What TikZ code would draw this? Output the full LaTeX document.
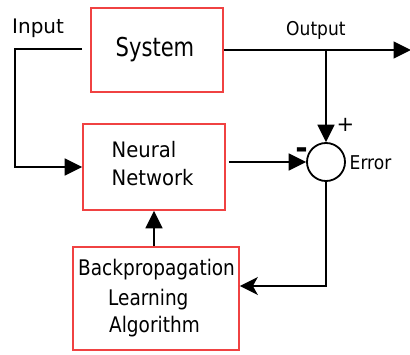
\documentclass[tikz,border=0pt]{standalone}
\usepackage{fontspec}
\usepackage{graphicx}
\setmainfont{DejaVu Sans}
\usetikzlibrary{arrows.meta,calc}
\definecolor{boxred}{RGB}{240,66,66}
\newcommand{\sqz}[2]{\scalebox{#1}[1]{#2}}
\tikzset{
  x=1pt,y=1pt,
  blk/.style={draw=boxred,line width=1.7pt,rectangle,inner sep=0pt},
  wire/.style={line width=1.8pt,draw=black},
  tri/.style={-{Triangle[length=17.5pt,width=17pt]}},
  stl/.style={-{Stealth[length=18pt,width=18pt,inset=5pt]}},
  lbl/.style={inner sep=0pt,anchor=base west}
}
\begin{document}
\begin{tikzpicture}
\useasboundingbox (0,0) rectangle (410,354);
% blocks
\node[blk,minimum width=132pt,minimum height=84pt] (sys) at (157,304) {};
\node[lbl,font=\fontsize{26}{30}\selectfont] (systxt) at (115.5,297) {\sqz{0.81}{System}};
\node[blk,minimum width=142pt,minimum height=86pt] (nn) at (154,187) {};
\node[lbl,font=\fontsize{21.3}{28}\selectfont] (nn1) at (111.5,196.3) {\sqz{0.92}{Neural}};
\node[lbl,font=\fontsize{21.3}{28}\selectfont] (nn2) at (111.5,168.3) {\sqz{0.92}{Network}};
\node[blk,minimum width=166pt,minimum height=103pt] (bp) at (156,55.5) {};
\node[lbl,font=\fontsize{21.5}{29}\selectfont] (bp1) at (78,78.3) {\sqz{0.86}{Backpropagation}};
\node[lbl,font=\fontsize{21.5}{29}\selectfont] (bp2) at (108,49) {\sqz{0.86}{Learning}};
\node[lbl,font=\fontsize{21.5}{29}\selectfont] (bp3) at (109,21.3) {\sqz{0.86}{Algorithm}};
% summing junction
\node[draw,circle,line width=1.8pt,minimum size=38pt,inner sep=0pt] (err) at (326,192) {};
% labels
\node[lbl,font=\fontsize{20}{22}\selectfont] (inlbl) at (12,320) {Input};
\node[lbl,font=\fontsize{19}{22}\selectfont] (outlbl) at (286,318) {\sqz{0.9}{Output}};
\node[lbl,font=\fontsize{19}{22}\selectfont] (errlbl) at (349.5,184.7) {\sqz{0.9}{Error}};
\node[inner sep=0pt,font=\fontsize{21}{22}\selectfont] (plus) at (345.5,229) {+};
\node[inner sep=0pt,anchor=base,font=\bfseries\fontsize{30}{30}\selectfont] (minus) at (301.5,195) {-};
% coordinates
\coordinate (inStart) at (82,305);
\coordinate (inCorner) at (15,305);
\coordinate (outEnd) at (411,304);
\coordinate (branch) at (326,304);
\coordinate (errCorner) at (326,68);
% wires
\draw[wire,tri] (inStart) -- (inCorner) |- (nn.west);
\draw[wire,tri] (sys.east) -- (outEnd);
\draw[wire,tri] (branch) -- (err.north);
\draw[wire,tri] ($(nn.east)+(3,5)$) -- (err.west);
\draw[wire,stl] (err.south) -- (errCorner) -- (bp.east |- errCorner);
\draw[wire,tri] (nn.south |- bp.north) -- (nn.south);
\end{tikzpicture}
\end{document}
